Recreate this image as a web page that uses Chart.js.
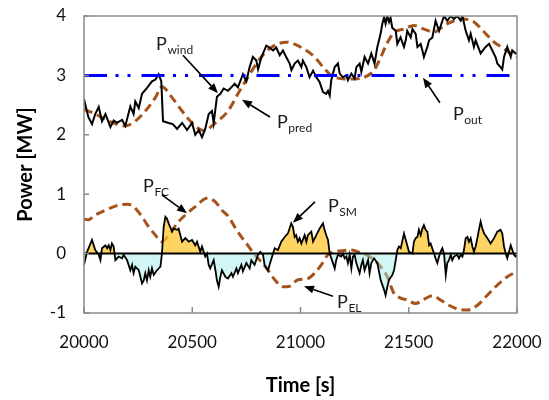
<!DOCTYPE html>
<html>
<head>
<meta charset="utf-8">
<script src="https://cdn.jsdelivr.net/npm/chart.js@4/dist/chart.umd.min.js"></script>
<style>
  html, body { margin: 0; padding: 0; background: #fff; }
  #wrap { width: 549px; height: 400px; }
</style>
</head>
<body>
<div id="wrap"><canvas id="c" width="549" height="400"></canvas></div>
<script>
// ---------------- data ----------------
const xRange = [20000, 22000];
const yTicks = [-1, 0, 1, 2, 3, 4];
const xTicks = [20000, 20500, 21000, 21500, 22000];

const windTime = [20000,20020,20037,20052,20068,20083,20099,20122,20137,20152,20176,20191,20214,20229,20237,20253,20268,20291,20314,20330,20345,20357,20365,20391,20410,20430,20453,20476,20499,20514,20530,20545,20560,20576,20591,20599,20614,20630,20645,20665,20696,20711,20734,20750,20765,20780,20796,20804,20819,20842,20857,20873,20888,20904,20919,20934,20950,20958,20973,20988,21004,21011,21027,21042,21058,21073,21088,21104,21119,21127,21135,21142,21158,21173,21181,21196,21212,21219,21235,21250,21258,21273,21281,21296,21312,21327,21342,21355,21370,21378,21386,21393,21401,21409,21416,21424,21440,21447,21462,21478,21486,21493,21509,21517,21532,21540,21555,21563,21570,21586,21594,21609,21624,21640,21663,21678,21694,21709,21724,21740,21748,21763,21778,21786,21801,21809,21832,21855,21871,21886,21901,21909,21924,21932,21940,21955,21971,21978,21994,22000];
const windPower = [2.60,2.30,2.18,2.35,2.47,2.23,2.35,2.13,2.24,2.20,2.25,2.15,2.48,2.35,2.56,2.45,2.69,2.79,2.90,2.93,3.02,2.90,2.23,2.20,2.18,2.10,2.20,2.08,2.20,2.00,2.08,1.96,2.10,2.35,2.40,2.20,2.64,2.69,2.78,2.74,2.86,2.80,3.02,2.90,3.14,3.31,3.25,3.10,3.30,3.50,3.47,3.42,3.47,3.34,3.42,3.31,3.20,3.09,3.20,3.25,3.14,3.25,3.14,2.97,3.08,2.97,2.89,2.72,2.69,2.74,2.66,2.92,3.14,3.20,3.03,2.97,3.00,2.92,3.03,2.95,3.14,3.20,3.06,3.31,3.20,3.37,3.20,3.48,3.70,3.87,3.98,3.87,4.00,3.90,3.97,3.80,3.75,3.53,3.64,3.48,3.59,3.75,3.64,3.78,3.70,3.48,3.53,3.42,3.31,3.48,3.59,3.64,3.92,3.75,4.00,3.92,4.00,3.95,4.00,3.92,4.00,3.75,3.59,3.70,3.48,3.59,3.37,3.48,3.53,3.42,3.31,3.20,3.14,3.10,3.31,3.48,3.31,3.42,3.37,3.37];

const predTime = [20000,20052,20114,20191,20237,20299,20330,20360,20406,20453,20499,20553,20607,20665,20711,20757,20819,20865,20934,21004,21065,21104,21142,21204,21250,21312,21342,21370,21401,21432,21478,21524,21570,21617,21663,21709,21748,21801,21848,21894,21940,21971,22000];
const predPower = [2.43,2.35,2.23,2.15,2.23,2.47,2.63,2.81,2.63,2.40,2.20,2.07,2.20,2.40,2.69,2.97,3.31,3.47,3.56,3.47,3.31,3.14,3.00,2.94,2.94,3.00,3.10,3.30,3.55,3.72,3.78,3.84,3.78,3.73,3.84,3.92,3.95,3.90,3.73,3.56,3.45,3.37,3.31];

const outTime = [20000, 22000];
const outPower = [3.0, 3.0];

const fcTime = [20000,20020,20052,20099,20145,20199,20229,20268,20299,20330,20360,20391,20430,20468,20514,20568,20607,20637,20668,20696,20727,20757,20788,20819,20850,20881,20919,20950,20988,21034,21065,21096,21127,21158,21196,21235,21265,21304,21342,21370,21401,21432,21463,21493,21532,21570,21609,21647,21686,21732,21771,21817,21863,21909,21955,22000];
const fcPower = [0.58,0.57,0.65,0.73,0.80,0.83,0.79,0.62,0.45,0.31,0.20,0.31,0.51,0.65,0.79,0.93,0.87,0.73,0.62,0.45,0.28,0.14,-0.02,-0.14,-0.28,-0.44,-0.56,-0.55,-0.44,-0.42,-0.33,-0.19,-0.02,0.03,0.05,0.06,0.03,-0.02,-0.11,-0.22,-0.39,-0.67,-0.75,-0.78,-0.84,-0.77,-0.71,-0.78,-0.87,-0.94,-0.95,-0.87,-0.70,-0.53,-0.39,-0.30];

const smTime = [20000,20014,20037,20052,20068,20076,20083,20099,20107,20114,20122,20129,20137,20145,20160,20176,20183,20199,20214,20222,20229,20237,20253,20268,20276,20283,20291,20299,20306,20314,20322,20337,20353,20360,20368,20376,20383,20391,20407,20414,20430,20437,20453,20468,20484,20499,20514,20522,20537,20545,20560,20568,20576,20583,20599,20607,20614,20622,20630,20637,20653,20665,20681,20688,20704,20711,20727,20734,20750,20765,20773,20788,20804,20814,20827,20834,20850,20857,20873,20881,20896,20911,20927,20942,20957,20965,20973,20980,20988,20996,21004,21019,21027,21034,21050,21058,21073,21088,21104,21111,21119,21127,21135,21150,21158,21165,21173,21188,21196,21204,21212,21219,21227,21235,21242,21250,21258,21273,21281,21288,21296,21312,21319,21327,21340,21355,21370,21386,21393,21401,21409,21424,21432,21440,21447,21455,21463,21478,21493,21501,21517,21524,21532,21540,21547,21555,21563,21570,21578,21586,21594,21601,21617,21624,21632,21640,21647,21655,21663,21671,21678,21686,21694,21701,21709,21724,21732,21740,21748,21755,21763,21771,21778,21786,21794,21801,21809,21817,21824,21832,21840,21848,21863,21878,21894,21909,21924,21932,21940,21948,21955,21963,21971,21986,21994,22000];
const smPower = [-0.19,0.03,0.23,0.06,-0.02,-0.11,0.09,0.14,0.09,0.14,0.06,0.17,0.12,-0.11,-0.05,-0.08,-0.02,-0.11,-0.28,-0.19,-0.33,-0.22,-0.28,-0.50,-0.45,-0.33,-0.45,-0.28,-0.39,-0.25,-0.36,-0.28,-0.22,0.00,0.45,0.62,0.59,0.51,0.37,0.42,0.40,0.42,0.20,0.26,0.20,0.23,0.14,0.20,0.03,0.12,-0.05,0.00,-0.19,-0.25,-0.11,-0.28,-0.45,-0.56,-0.39,-0.28,-0.39,-0.42,-0.33,-0.39,-0.25,-0.33,-0.19,-0.30,-0.16,-0.25,-0.11,-0.19,-0.02,0.03,-0.02,-0.19,-0.28,-0.19,0.00,0.09,0.06,0.20,0.28,0.34,0.51,0.45,0.28,0.31,0.20,0.26,0.17,0.31,0.20,0.31,0.37,0.20,0.31,0.42,0.51,0.40,0.31,0.23,0.00,-0.16,-0.25,-0.11,-0.02,-0.05,0.00,-0.08,-0.05,-0.16,-0.02,-0.25,-0.05,-0.02,-0.16,-0.33,-0.19,-0.11,-0.28,-0.11,-0.33,-0.16,-0.08,-0.16,-0.44,-0.61,-0.70,-0.56,-0.44,-0.36,-0.28,-0.11,0.06,0.12,0.09,0.34,0.14,0.03,0.00,0.20,0.26,0.28,0.40,0.31,0.42,0.48,0.40,0.37,0.14,0.17,0.00,-0.08,-0.16,-0.05,0.03,0.09,0.00,-0.36,-0.16,-0.11,-0.02,-0.11,-0.05,-0.02,-0.08,-0.02,-0.05,0.06,0.26,0.28,0.20,0.26,0.12,0.03,0.12,0.26,0.40,0.54,0.42,0.34,0.26,0.17,0.26,0.37,0.40,0.34,0.12,0.00,-0.08,0.03,0.14,-0.02,-0.05,-0.02];

const zeroLevel = [0, 0];

// ---------------- annotations (data coordinates) ----------------
const notes = [
  { main: 'P', sub: 'wind', at: [20333, 3.43], tail: [20457, 3.34], head: [20619, 2.70] },
  { main: 'P', sub: 'pred', at: [20891, 2.11], tail: [20859, 2.30], head: [20730, 2.59] },
  { main: 'P', sub: 'out',  at: [21704, 2.25], tail: [21644, 2.54], head: [21566, 2.96] },
  { main: 'P', sub: 'FC',   at: [20273, 1.04], tail: [20360, 0.99], head: [20476, 0.68] },
  { main: 'P', sub: 'SM',   at: [21127, 0.70], tail: [21067, 0.87], head: [20965, 0.52] },
  { main: 'P', sub: 'EL',   at: [21169, -0.92], tail: [21150, -0.72], head: [21016, -0.55] }
];

const pts = (t, v) => t.map((x, i) => ({ x: x, y: v[i] }));

const FONT = 'Lato, "Open Sans", "Noto Sans", sans-serif';
const BROWN = '#A5531A';
const AXIS = '#8a8a8a';

const noPad = s => { s.paddingTop = 0; s.paddingBottom = 0; s.paddingLeft = 0; s.paddingRight = 0; };

const framePlugin = {
  id: 'frame',
  afterDatasetsDraw(chart) {
    const { ctx, chartArea: a, scales } = chart;
    ctx.save();
    ctx.strokeStyle = AXIS;
    ctx.lineWidth = 1.5;
    ctx.strokeRect(a.left, a.top, a.right - a.left, a.bottom - a.top);
    ctx.beginPath();
    yTicks.forEach(v => {
      const y = scales.y.getPixelForValue(v);
      ctx.moveTo(a.left, y); ctx.lineTo(a.left + 5, y);
    });
    xTicks.forEach(v => {
      const x = scales.x.getPixelForValue(v);
      ctx.moveTo(x, a.bottom); ctx.lineTo(x, a.bottom - 6);
    });
    ctx.stroke();
    ctx.restore();
  },
  afterDraw(chart) {
    const { ctx, scales } = chart;
    ctx.save();
    ctx.fillStyle = '#1a1a1a';
    ctx.strokeStyle = '#000';
    ctx.lineWidth = 1.6;
    notes.forEach(n => {
      const px = scales.x.getPixelForValue(n.at[0]);
      const py = scales.y.getPixelForValue(n.at[1]);
      ctx.font = '18px ' + FONT;
      ctx.textBaseline = 'alphabetic';
      ctx.textAlign = 'left';
      ctx.fillStyle = '#1a1a1a';
      ctx.fillText(n.main, px, py);
      const w = ctx.measureText(n.main).width;
      ctx.font = '12px ' + FONT;
      ctx.fillText(n.sub, px + w + 0.5, py + 4);
      // arrow
      const x1 = scales.x.getPixelForValue(n.tail[0]);
      const y1 = scales.y.getPixelForValue(n.tail[1]);
      const x2 = scales.x.getPixelForValue(n.head[0]);
      const y2 = scales.y.getPixelForValue(n.head[1]);
      const ang = Math.atan2(y2 - y1, x2 - x1);
      const L = 10, W = 4;
      const bx = x2 - L * Math.cos(ang), by = y2 - L * Math.sin(ang);
      ctx.beginPath();
      ctx.moveTo(x1, y1); ctx.lineTo(bx, by);
      ctx.stroke();
      ctx.beginPath();
      ctx.moveTo(x2, y2);
      ctx.lineTo(bx + W * Math.sin(ang), by - W * Math.cos(ang));
      ctx.lineTo(bx - W * Math.sin(ang), by + W * Math.cos(ang));
      ctx.closePath();
      ctx.fillStyle = '#000';
      ctx.fill();
    });
    ctx.restore();
  }
};

new Chart(document.getElementById('c'), {
  type: 'line',
  data: {
    datasets: [
      { label: 'P_out', data: pts(outTime, outPower), borderColor: '#0000FF', borderWidth: 3,
        borderDash: [23, 8.5, 3, 9, 3, 11], borderCapStyle: 'butt', pointRadius: 0, order: 1, fill: false },
      { label: 'P_wind', data: pts(windTime, windPower), borderColor: '#000', borderWidth: 2,
        pointRadius: 0, tension: 0, order: 2, fill: false },
      { label: 'zero', data: pts(xRange, zeroLevel), borderColor: '#000', borderWidth: 2,
        pointRadius: 0, order: 3, fill: false },
      { label: 'P_SM', data: pts(smTime, smPower), borderColor: '#000', borderWidth: 1.8,
        pointRadius: 0, tension: 0, order: 4,
        fill: { target: { value: 0 }, above: 'rgba(255,198,45,0.75)', below: 'rgba(165,238,238,0.5)' } },
      { label: 'P_pred', data: pts(predTime, predPower), borderColor: BROWN, borderWidth: 3,
        borderDash: [9, 5], pointRadius: 0, cubicInterpolationMode: 'monotone', order: 5, fill: false },
      { label: 'P_FC', data: pts(fcTime, fcPower), borderColor: BROWN, borderWidth: 3,
        borderDash: [9, 5], pointRadius: 0, cubicInterpolationMode: 'monotone', order: 6, fill: false }
    ]
  },
  options: {
    responsive: false,
    animation: false,
    devicePixelRatio: 1,
    layout: { padding: { top: 16, right: 32, left: 0, bottom: 0 } },
    plugins: { legend: { display: false }, tooltip: { enabled: false } },
    scales: {
      x: {
        type: 'linear', min: xRange[0], max: xRange[1],
        afterBuildTicks: s => { s.ticks = xTicks.map(v => ({ value: v })); },
        afterFit: s => { s.height = 87; noPad(s); },
        grid: { display: false, drawTicks: false },
        border: { display: false },
        ticks: { padding: 19, color: '#111', font: { family: FONT, size: 17 }, maxRotation: 0, autoSkip: false,
                 callback: v => String(v) },
        title: { display: true, text: 'Time [s]', color: '#000', font: { family: FONT, size: 20, weight: 'bold' }, padding: { bottom: 2, top: 0 } }
      },
      y: {
        type: 'linear', min: -1, max: 4,
        afterBuildTicks: s => { s.ticks = yTicks.map(v => ({ value: v })); },
        afterFit: s => { s.width = 84; noPad(s); },
        grid: { display: false, drawTicks: false },
        border: { display: false },
        ticks: { padding: 18, color: '#111', font: { family: FONT, size: 17 }, callback: v => String(v) },
        title: { display: true, text: 'Power [MW]', color: '#000', font: { family: FONT, size: 20, weight: 'bold' }, padding: { top: 14, bottom: 0 } }
      }
    }
  },
  plugins: [framePlugin]
});
</script>
</body>
</html>
